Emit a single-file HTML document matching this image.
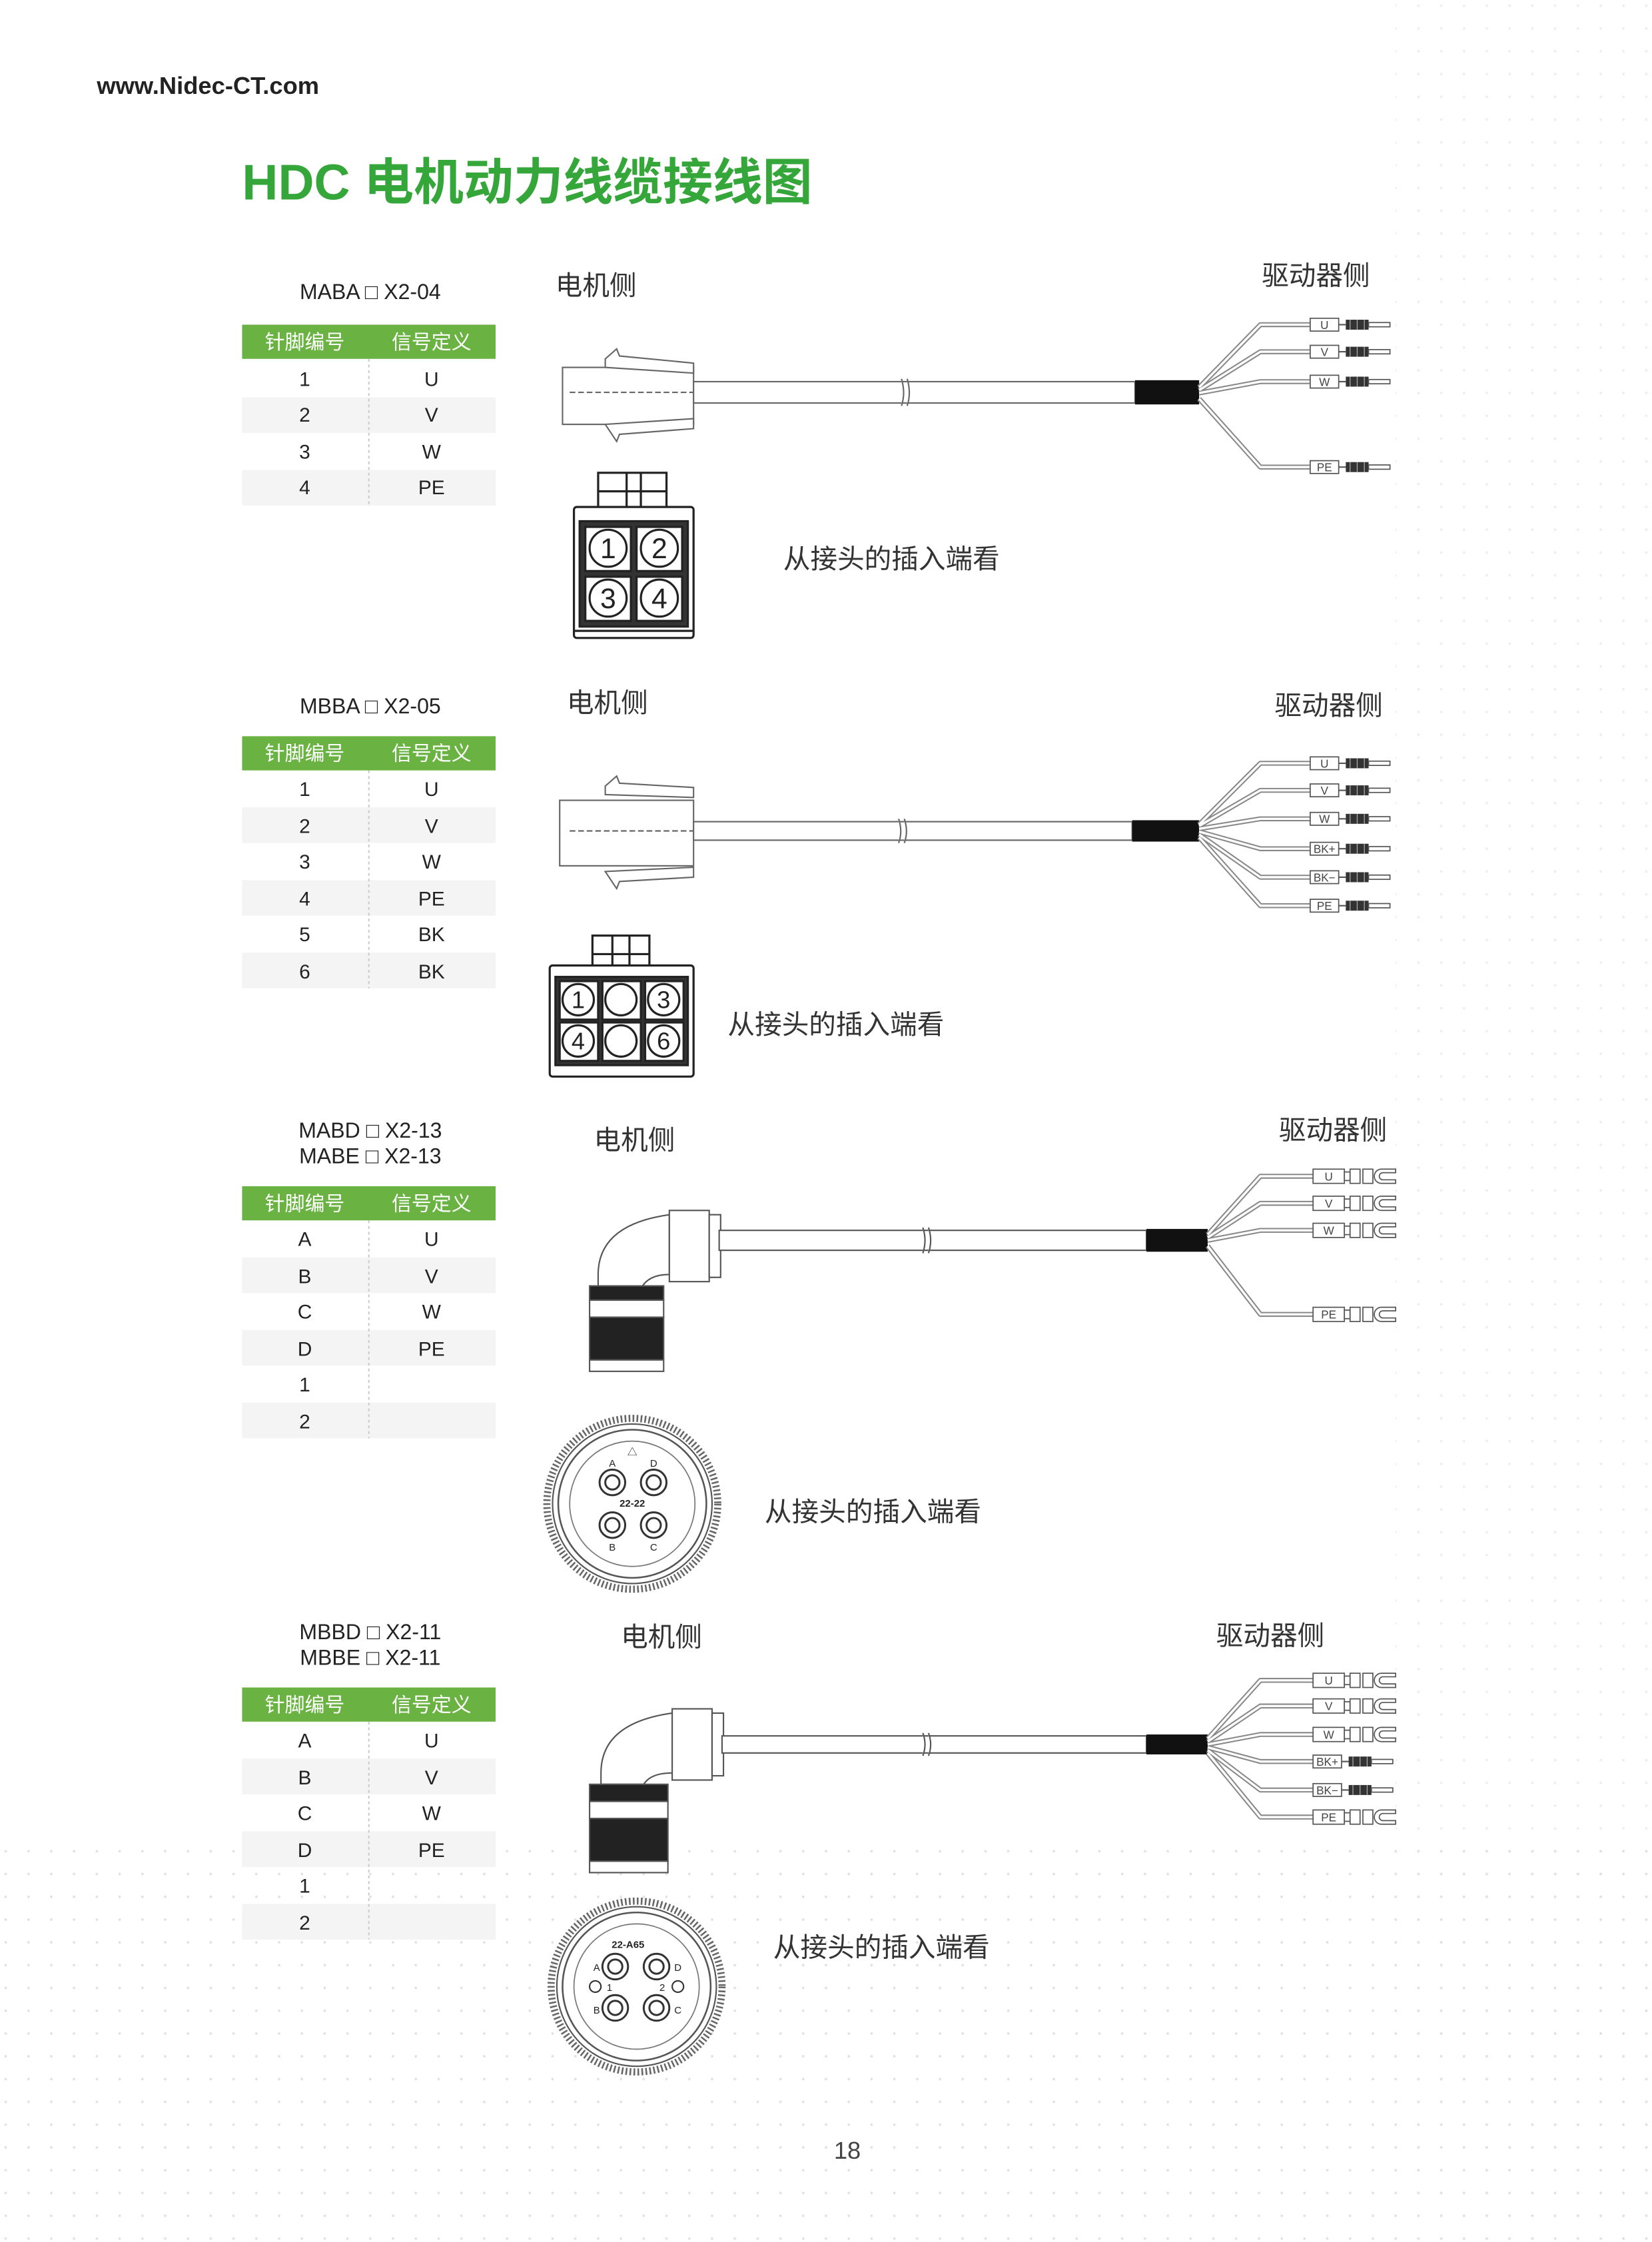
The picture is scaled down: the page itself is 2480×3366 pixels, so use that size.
<!DOCTYPE html>
<html><head><meta charset="utf-8"><style>
html,body{margin:0;padding:0;background:#fff}
svg{display:block}
text{font-family:"Liberation Sans","Noto Sans CJK SC",sans-serif}
</style></head><body>
<svg width="2480" height="3366" viewBox="0 0 1160 1574.4" preserveAspectRatio="none" xmlns="http://www.w3.org/2000/svg">
<defs>
<pattern id="dots" width="16" height="16" patternUnits="userSpaceOnUse"><circle cx="4" cy="4" r="0.9" fill="#e2e2e2"/></pattern>
<g id="pin">
 <rect x="0" y="-4.5" width="20" height="9" fill="#fff" stroke="#555" stroke-width="0.8"/>
 <line x1="20" y1="0" x2="25" y2="0" stroke="#555" stroke-width="1"/>
 <rect x="25" y="-3.5" width="16" height="7" fill="#333"/>
 <line x1="28" y1="-3.5" x2="28" y2="3.5" stroke="#aaa" stroke-width="0.6"/>
 <line x1="33" y1="-3.5" x2="33" y2="3.5" stroke="#aaa" stroke-width="0.6"/>
 <line x1="38" y1="-3.5" x2="38" y2="3.5" stroke="#aaa" stroke-width="0.6"/>
 <rect x="41" y="-1.5" width="15" height="3" fill="#fff" stroke="#555" stroke-width="0.8"/>
</g>
<g id="fork">
 <rect x="0" y="-5" width="22" height="10" fill="#fff" stroke="#555" stroke-width="0.8"/>
 <rect x="22" y="-3" width="4" height="6" fill="#fff" stroke="#555" stroke-width="0.8"/>
 <rect x="26" y="-5" width="7" height="10" fill="#fff" stroke="#555" stroke-width="0.8"/>
 <rect x="35" y="-5" width="7" height="10" fill="#fff" stroke="#555" stroke-width="0.8"/>
 <path d="M58 -5 H48 A5 5 0 0 0 48 5 H58 V2.5 H49 A2.5 2.5 0 0 1 49 -2.5 H58 Z" fill="#fff" stroke="#555" stroke-width="0.8"/>
</g>
<g id="round">
 <circle r="60" fill="#fff" stroke="#666" stroke-width="5" stroke-dasharray="1.2 1.6"/>
 <circle r="56" fill="none" stroke="#555" stroke-width="1"/>
 <circle r="52" fill="none" stroke="#555" stroke-width="1.2"/>
 <circle r="44" fill="none" stroke="#777" stroke-width="0.8"/>
</g>
<g id="hole">
 <circle r="9" fill="#fff" stroke="#333" stroke-width="1.4"/>
 <circle r="5" fill="#fff" stroke="#333" stroke-width="1.4"/>
</g>
</defs>

<rect x="0" y="1290" width="1160" height="285" fill="url(#dots)"/>
<rect x="980" y="0" width="180" height="1574" fill="url(#dots)" opacity="0.6"/>

<text x="68" y="66" font-size="17" font-weight="bold" fill="#222">www.Nidec-CT.com</text>
<text x="170" y="140" font-size="35" font-weight="bold" fill="#35a639">HDC 电机动力线缆接线图</text>

<!-- ===== TABLE 1 ===== -->
<text x="260" y="210" font-size="15" text-anchor="middle" fill="#222">MABA □ X2-04</text>
<g font-size="14" text-anchor="middle" fill="#222">
<rect x="170" y="228" width="178" height="24" fill="#6ab342"/>
<text x="214" y="245" fill="#fff">针脚编号</text><text x="303" y="245" fill="#fff">信号定义</text>
<rect x="170" y="279" width="178" height="25" fill="#f3f4f3"/>
<rect x="170" y="330" width="178" height="25" fill="#f3f4f3"/>
<line x1="259" y1="252" x2="259" y2="355" stroke="#ccc" stroke-dasharray="2 2"/>
<text x="214" y="271">1</text><text x="303" y="271">U</text>
<text x="214" y="296">2</text><text x="303" y="296">V</text>
<text x="214" y="322">3</text><text x="303" y="322">W</text>
<text x="214" y="347">4</text><text x="303" y="347">PE</text>
</g>

<!-- ===== TABLE 2 ===== -->
<text x="260" y="501" font-size="15" text-anchor="middle" fill="#222">MBBA □ X2-05</text>
<g font-size="14" text-anchor="middle" fill="#222">
<rect x="170" y="517" width="178" height="24" fill="#6ab342"/>
<text x="214" y="534" fill="#fff">针脚编号</text><text x="303" y="534" fill="#fff">信号定义</text>
<rect x="170" y="567" width="178" height="25" fill="#f3f4f3"/>
<rect x="170" y="618" width="178" height="25" fill="#f3f4f3"/>
<rect x="170" y="669" width="178" height="25" fill="#f3f4f3"/>
<line x1="259" y1="541" x2="259" y2="694" stroke="#ccc" stroke-dasharray="2 2"/>
<text x="214" y="559">1</text><text x="303" y="559">U</text>
<text x="214" y="585">2</text><text x="303" y="585">V</text>
<text x="214" y="610">3</text><text x="303" y="610">W</text>
<text x="214" y="636">4</text><text x="303" y="636">PE</text>
<text x="214" y="661">5</text><text x="303" y="661">BK</text>
<text x="214" y="687">6</text><text x="303" y="687">BK</text>
</g>

<!-- ===== TABLE 3 ===== -->
<text x="260" y="799" font-size="15" text-anchor="middle" fill="#222">MABD □ X2-13</text>
<text x="260" y="817" font-size="15" text-anchor="middle" fill="#222">MABE □ X2-13</text>
<g font-size="14" text-anchor="middle" fill="#222">
<rect x="170" y="833" width="178" height="24" fill="#6ab342"/>
<text x="214" y="850" fill="#fff">针脚编号</text><text x="303" y="850" fill="#fff">信号定义</text>
<rect x="170" y="883" width="178" height="25" fill="#f3f4f3"/>
<rect x="170" y="934" width="178" height="25" fill="#f3f4f3"/>
<rect x="170" y="985" width="178" height="25" fill="#f3f4f3"/>
<line x1="259" y1="857" x2="259" y2="1010" stroke="#ccc" stroke-dasharray="2 2"/>
<text x="214" y="875">A</text><text x="303" y="875">U</text>
<text x="214" y="901">B</text><text x="303" y="901">V</text>
<text x="214" y="926">C</text><text x="303" y="926">W</text>
<text x="214" y="952">D</text><text x="303" y="952">PE</text>
<text x="214" y="977">1</text>
<text x="214" y="1003">2</text>
</g>

<!-- ===== TABLE 4 ===== -->
<text x="260" y="1151" font-size="15" text-anchor="middle" fill="#222">MBBD □ X2-11</text>
<text x="260" y="1169" font-size="15" text-anchor="middle" fill="#222">MBBE □ X2-11</text>
<g font-size="14" text-anchor="middle" fill="#222">
<rect x="170" y="1185" width="178" height="24" fill="#6ab342"/>
<text x="214" y="1202" fill="#fff">针脚编号</text><text x="303" y="1202" fill="#fff">信号定义</text>
<rect x="170" y="1235" width="178" height="25" fill="#f3f4f3"/>
<rect x="170" y="1286" width="178" height="25" fill="#f3f4f3"/>
<rect x="170" y="1337" width="178" height="25" fill="#f3f4f3"/>
<line x1="259" y1="1209" x2="259" y2="1362" stroke="#ccc" stroke-dasharray="2 2"/>
<text x="214" y="1227">A</text><text x="303" y="1227">U</text>
<text x="214" y="1253">B</text><text x="303" y="1253">V</text>
<text x="214" y="1278">C</text><text x="303" y="1278">W</text>
<text x="214" y="1304">D</text><text x="303" y="1304">PE</text>
<text x="214" y="1329">1</text>
<text x="214" y="1355">2</text>
</g>

<!-- ===== DIAGRAM 1 ===== -->
<g fill="#333" font-size="19">
<text x="390" y="207">电机侧</text><text x="886" y="200">驱动器侧</text>
<text x="550" y="399">从接头的插入端看</text>
</g>
<g fill="#fff" stroke="#666" stroke-width="1">
<rect x="395" y="258" width="92" height="40"/>
<path d="M425 252 L433 245 L435 250 L487 255 L487 262 L425 258 Z"/>
<path d="M425 298 L487 294 L487 301 L435 305 L433 310 Z"/>
<rect x="487" y="268" width="310" height="15"/>
<line x1="400" y1="275.5" x2="487" y2="275.5" stroke-dasharray="4 2"/>
</g>
<path d="M633 266 q3 10 0 19 M637 266 q3 10 0 19" stroke="#666" fill="#fff" stroke-width="1"/>
<rect x="797" y="267" width="45" height="17" fill="#111"/>
<g fill="none" stroke-linejoin="round">
<g stroke="#888" stroke-width="3.5">
<path d="M842 272 L885 228 H920"/><path d="M842 274 L885 247 H920"/><path d="M842 276 L885 268 H920"/><path d="M842 280 L885 328 H920"/>
</g>
<g stroke="#fff" stroke-width="1.6">
<path d="M842 272 L885 228 H920"/><path d="M842 274 L885 247 H920"/><path d="M842 276 L885 268 H920"/><path d="M842 280 L885 328 H920"/>
</g></g>
<use href="#pin" x="920" y="228"/><use href="#pin" x="920" y="247"/><use href="#pin" x="920" y="268"/><use href="#pin" x="920" y="328"/>
<g font-size="8" text-anchor="middle" fill="#444"><text x="930" y="231">U</text><text x="930" y="250">V</text><text x="930" y="271">W</text><text x="930" y="331">PE</text></g>
<!-- front view 1 -->
<g stroke="#222" stroke-width="1.5" fill="#fff">
<rect x="420" y="332" width="48" height="30"/>
<line x1="420" y1="345" x2="468" y2="345"/><line x1="440" y1="332" x2="440" y2="362"/><line x1="450" y1="332" x2="450" y2="362"/>
<rect x="403" y="356" width="84" height="92" rx="2"/>
<rect x="407" y="366" width="76" height="74" fill="#333"/>
<rect x="411" y="370" width="32" height="31" fill="#fff"/><rect x="447" y="370" width="32" height="31" fill="#fff"/>
<rect x="411" y="405" width="32" height="31" fill="#fff"/><rect x="447" y="405" width="32" height="31" fill="#fff"/>
<circle cx="427" cy="385" r="13"/><circle cx="463" cy="385" r="13"/><circle cx="427" cy="420" r="13"/><circle cx="463" cy="420" r="13"/>
<line x1="403" y1="443" x2="487" y2="443"/>
</g>
<g font-size="20" text-anchor="middle" fill="#222"><text x="427" y="392">1</text><text x="463" y="392">2</text><text x="427" y="427">3</text><text x="463" y="427">4</text></g>

<!-- ===== DIAGRAM 2 ===== -->
<g fill="#333" font-size="19">
<text x="398" y="500">电机侧</text><text x="895" y="502">驱动器侧</text>
<text x="511" y="726">从接头的插入端看</text>
</g>
<g fill="#fff" stroke="#666" stroke-width="1">
<rect x="393" y="562" width="94" height="46"/>
<path d="M425 552 L433 545 L435 550 L487 553 L487 560 L425 558 Z"/>
<path d="M425 612 L487 609 L487 616 L435 619 L433 624 Z"/>
<rect x="487" y="577" width="308" height="13"/>
<line x1="400" y1="583.5" x2="487" y2="583.5" stroke-dasharray="4 2"/>
</g>
<path d="M631 575 q3 9 0 17 M635 575 q3 9 0 17" stroke="#666" fill="#fff" stroke-width="1"/>
<rect x="795" y="576" width="47" height="15" fill="#111"/>
<g fill="none" stroke-linejoin="round">
<g stroke="#888" stroke-width="3.5">
<path d="M842 579 L885 536 H920"/><path d="M842 580 L885 555 H920"/><path d="M842 582 L885 575 H920"/><path d="M842 584 L885 596 H920"/><path d="M842 586 L885 616 H920"/><path d="M842 588 L885 636 H920"/>
</g>
<g stroke="#fff" stroke-width="1.6">
<path d="M842 579 L885 536 H920"/><path d="M842 580 L885 555 H920"/><path d="M842 582 L885 575 H920"/><path d="M842 584 L885 596 H920"/><path d="M842 586 L885 616 H920"/><path d="M842 588 L885 636 H920"/>
</g></g>
<use href="#pin" x="920" y="536"/><use href="#pin" x="920" y="555"/><use href="#pin" x="920" y="575"/><use href="#pin" x="920" y="596"/><use href="#pin" x="920" y="616"/><use href="#pin" x="920" y="636"/>
<g font-size="8" text-anchor="middle" fill="#444"><text x="930" y="539">U</text><text x="930" y="558">V</text><text x="930" y="578">W</text><text x="930" y="599">BK+</text><text x="930" y="619">BK−</text><text x="930" y="639">PE</text></g>
<!-- front view 2 -->
<g stroke="#222" stroke-width="1.5" fill="#fff">
<rect x="416" y="657" width="40" height="28"/>
<line x1="416" y1="670" x2="456" y2="670"/><line x1="430" y1="657" x2="430" y2="685"/><line x1="442" y1="657" x2="442" y2="685"/>
<rect x="386" y="678" width="101" height="78" rx="2"/>
<rect x="390" y="686" width="93" height="62" fill="#333"/>
<rect x="393" y="689" width="27" height="27" fill="#fff"/><rect x="423" y="689" width="27" height="27" fill="#fff"/><rect x="453" y="689" width="27" height="27" fill="#fff"/>
<rect x="393" y="718" width="27" height="27" fill="#fff"/><rect x="423" y="718" width="27" height="27" fill="#fff"/><rect x="453" y="718" width="27" height="27" fill="#fff"/>
<circle cx="406" cy="702" r="11"/><circle cx="436" cy="702" r="11"/><circle cx="466" cy="702" r="11"/>
<circle cx="406" cy="731" r="11"/><circle cx="436" cy="731" r="11"/><circle cx="466" cy="731" r="11"/>
</g>
<g font-size="17" text-anchor="middle" fill="#222"><text x="406" y="708">1</text><text x="466" y="708">3</text><text x="406" y="737">4</text><text x="466" y="737">6</text></g>

<!-- ===== DIAGRAM 3 ===== -->
<g fill="#333" font-size="19">
<text x="417" y="807">电机侧</text><text x="898" y="800">驱动器侧</text>
<text x="537" y="1068">从接头的插入端看</text>
</g>
<g fill="#fff" stroke="#555" stroke-width="1">
<path d="M420 895 Q420 860 470 853 L470 895 Q455 895 450 905 L420 905 Z"/>
<rect x="470" y="850" width="28" height="50"/>
<rect x="498" y="853" width="8" height="44"/>
<rect x="505" y="864" width="300" height="14"/>
<rect x="414" y="903" width="52" height="10" fill="#222"/>
<rect x="414" y="913" width="52" height="12"/>
<rect x="414" y="925" width="52" height="30" fill="#222"/>
<rect x="414" y="955" width="52" height="8"/>
</g>
<path d="M648 862 q3 9 0 18 M652 862 q3 9 0 18" stroke="#555" fill="#fff" stroke-width="1"/>
<rect x="805" y="863" width="43" height="16" fill="#111"/>
<g fill="none" stroke-linejoin="round">
<g stroke="#888" stroke-width="3.5">
<path d="M848 867 L885 826 H922"/><path d="M848 869 L885 845 H922"/><path d="M848 871 L885 864 H922"/><path d="M848 875 L885 923 H922"/>
</g>
<g stroke="#fff" stroke-width="1.6">
<path d="M848 867 L885 826 H922"/><path d="M848 869 L885 845 H922"/><path d="M848 871 L885 864 H922"/><path d="M848 875 L885 923 H922"/>
</g></g>
<use href="#fork" x="922" y="826"/><use href="#fork" x="922" y="845"/><use href="#fork" x="922" y="864"/><use href="#fork" x="922" y="923"/>
<g font-size="8" text-anchor="middle" fill="#444"><text x="933" y="829">U</text><text x="933" y="848">V</text><text x="933" y="867">W</text><text x="933" y="926">PE</text></g>
<use href="#round" x="444" y="1056"/>
<use href="#hole" x="430" y="1041"/><use href="#hole" x="459" y="1041"/><use href="#hole" x="430" y="1071"/><use href="#hole" x="459" y="1071"/>
<g font-size="7" text-anchor="middle" fill="#222"><text x="430" y="1030">A</text><text x="459" y="1030">D</text><text x="430" y="1089">B</text><text x="459" y="1089">C</text><text x="444" y="1058" font-weight="bold">22-22</text><text x="444" y="1022">△</text></g>

<!-- ===== DIAGRAM 4 ===== -->
<g fill="#333" font-size="19">
<text x="436" y="1156">电机侧</text><text x="854" y="1155">驱动器侧</text>
<text x="543" y="1374">从接头的插入端看</text>
</g>
<g fill="#fff" stroke="#555" stroke-width="1">
<path d="M422 1245 Q422 1210 472 1203 L472 1245 Q457 1245 452 1253 L422 1253 Z"/>
<rect x="472" y="1200" width="28" height="50"/>
<rect x="500" y="1203" width="8" height="44"/>
<rect x="507" y="1219" width="298" height="12"/>
<rect x="414" y="1253" width="55" height="12" fill="#222"/>
<rect x="414" y="1265" width="55" height="12"/>
<rect x="414" y="1277" width="55" height="30" fill="#222"/>
<rect x="414" y="1307" width="55" height="8"/>
</g>
<path d="M648 1217 q3 8 0 16 M652 1217 q3 8 0 16" stroke="#555" fill="#fff" stroke-width="1"/>
<rect x="805" y="1218" width="43" height="14" fill="#111"/>
<g fill="none" stroke-linejoin="round">
<g stroke="#888" stroke-width="3.5">
<path d="M848 1221 L885 1180 H922"/><path d="M848 1223 L885 1198 H922"/><path d="M848 1225 L885 1218 H922"/><path d="M848 1227 L885 1237 H922"/><path d="M848 1229 L885 1257 H922"/><path d="M848 1231 L885 1276 H922"/>
</g>
<g stroke="#fff" stroke-width="1.6">
<path d="M848 1221 L885 1180 H922"/><path d="M848 1223 L885 1198 H922"/><path d="M848 1225 L885 1218 H922"/><path d="M848 1227 L885 1237 H922"/><path d="M848 1229 L885 1257 H922"/><path d="M848 1231 L885 1276 H922"/>
</g></g>
<use href="#fork" x="922" y="1180"/><use href="#fork" x="922" y="1198"/><use href="#fork" x="922" y="1218"/>
<use href="#pin" x="922" y="1237"/><use href="#pin" x="922" y="1257"/>
<use href="#fork" x="922" y="1276"/>
<g font-size="8" text-anchor="middle" fill="#444"><text x="933" y="1183">U</text><text x="933" y="1201">V</text><text x="933" y="1221">W</text><text x="932" y="1240">BK+</text><text x="932" y="1260">BK−</text><text x="933" y="1279">PE</text></g>
<use href="#round" x="447" y="1395"/>
<use href="#hole" x="432" y="1381"/><use href="#hole" x="461" y="1381"/><use href="#hole" x="432" y="1410"/><use href="#hole" x="461" y="1410"/>
<circle cx="418" cy="1395" r="4" fill="#fff" stroke="#333"/><circle cx="476" cy="1395" r="4" fill="#fff" stroke="#333"/>
<g font-size="7" text-anchor="middle" fill="#222"><text x="441" y="1368" font-weight="bold">22-A65</text><text x="419" y="1384">A</text><text x="476" y="1384">D</text><text x="419" y="1414">B</text><text x="476" y="1414">C</text><text x="428" y="1398">1</text><text x="465" y="1398">2</text></g>

<text x="595" y="1516" font-size="17" text-anchor="middle" fill="#444">18</text>
</svg>
</body></html>
